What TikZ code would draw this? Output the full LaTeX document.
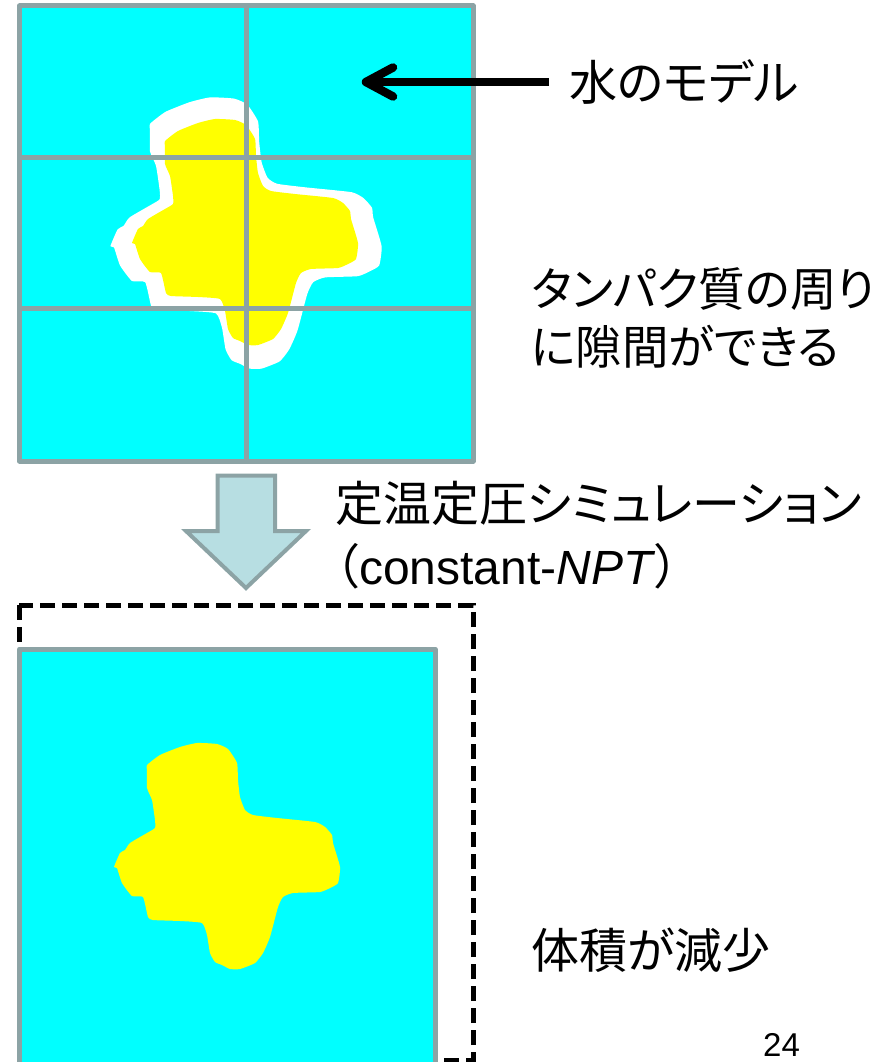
\documentclass[tikz,border=0pt]{standalone}
\usepackage{fontspec}
\setmainfont{Liberation Sans}
\newfontfamily\jp{Noto Sans CJK JP}[RawFeature={+palt}]
\usetikzlibrary{calc}
\definecolor{water}{RGB}{0,255,255}
\definecolor{prot}{RGB}{255,255,0}
\definecolor{gline}{RGB}{140,163,165}
\definecolor{barrow}{RGB}{183,222,226}
\newcommand\myblob[1]{\fill[#1] plot[smooth cycle,tension=0.3] coordinates {
    (-80,-91) (-67,-101) (-47,-109) (-30,-113) (-10,-112) (1,-107) (10,-93) (11,-76)
    (13,-59) (18,-46) (26,-41) (50,-38) (88,-34) (98,-29) (105,-21) (106,-13)
    (113,11) (111,27) (103,32) (93,36) (66,37) (56,41) (51,51) (43,81)
    (36,97) (28,107) (13,113) (3,113) (-5,109) (-12,106) (-17,97) (-20,79)
    (-25,67) (-47,65) (-74,64) (-79,61) (-84,41) (-95,40) (-105,27) (-110,12)
    (-113,11) (-107,-3) (-102,-6) (-97,-13) (-80,-23) (-72,-28) (-72,-36) (-75,-56)
    (-80,-68) (-80,-86)};}
\tikzset{
  boxline/.style={draw=gline,line width=5pt,line join=round},
  jplbl/.style={anchor=west,inner sep=0pt,font=\jp\fontsize{#1}{55}\selectfont},
  jplbl/.default=48,
  latlbl/.style={anchor=west,inner sep=0pt,font=\fontsize{48}{55}\selectfont},
  pointer/.style={line width=8.5pt},
  blockarrow/.style={fill=barrow,draw=gline,line width=4pt,line join=miter}
}
\begin{document}
\begin{tikzpicture}[x=1pt,y=-1pt]
\useasboundingbox (0,0) rectangle (885,1062);
\clip (0,0) rectangle (885,1062);
% top box
\fill[water] (19.5,6) rectangle (473,461);
\myblob{white,shift={(246,233)},scale=1.2}
\myblob{prot,shift={(245,232)}}
\draw[boxline] (246.5,6) -- (246.5,461);
\draw[boxline] (19.5,157.5) -- (473,157.5);
\draw[boxline] (19.5,308.5) -- (473,308.5);
\draw[boxline] (19.5,6) rectangle (473,461);
% block arrow
\draw[blockarrow] (217.5,475.5) -- (275,475.5) -- (275,531) -- (306,531) -- (246,588) -- (186,531) -- (217.5,531) -- cycle;
% dashed box
\draw[line width=5pt,dash pattern=on 15pt off 7pt] (19,605) rectangle (473,1060);
% bottom box
\fill[water] (19.5,649) rectangle (435,1080);
\draw[boxline] (19.5,1080) -- (19.5,649) -- (435,649) -- (435,1080);
\myblob{prot,shift={(227,856)}}
% labels
\node[jplbl] (waterlbl) at (569,82) {水のモデル};
\node[jplbl=46.5] (gap1) at (531,289) {タンパク質の周り};
\node[jplbl=46.5] (gap2) at (531,347) {に隙間ができる};
\node[jplbl] (npt1) at (335,503) {定温定圧シミュレーション};
\node[latlbl] (npt2) at (335,566) {{\jp （}constant-\textit{NPT}{\jp ）}};
\node[jplbl] (vol) at (531,950) {体積が減少};
\node[anchor=base west,inner sep=0pt,font=\fontsize{33}{38}\selectfont] (pageno) at (763,1056) {24};
% pointer arrow
\coordinate (tip) at (366,82);
\draw[pointer] ([xshift=-20pt]waterlbl.west |- tip) -- (tip);
\draw[pointer,line cap=round,line join=round] ($(tip)+(27,-14.5)$) -- (tip) -- ($(tip)+(27,14.5)$);
\end{tikzpicture}
\end{document}
